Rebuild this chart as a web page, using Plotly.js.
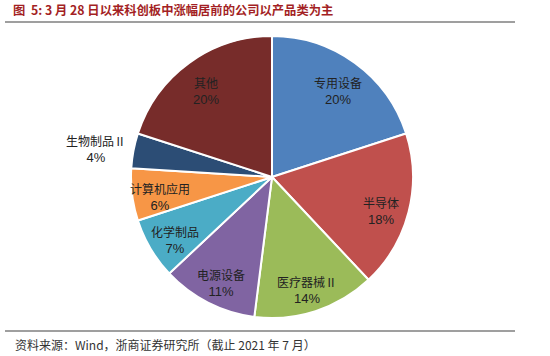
<!DOCTYPE html>
<html>
<head>
<meta charset="utf-8">
<script src="https://cdn.plot.ly/plotly-3.0.1.min.js"></script>
<style>html,body{margin:0;padding:0;background:#fff;}#chart{width:550px;height:356px;}</style>
</head>
<body>
<div id="chart"></div>
<script>
const categories = ["专用设备", "半导体", "医疗器械Ⅱ", "电源设备", "化学制品", "计算机应用", "生物制品Ⅱ", "其他"];
const shares = [20, 18, 14, 11, 7, 6, 4, 20];
const colors = ["#4F81BD", "#C0504D", "#9BBB59", "#8064A2", "#4BACC6", "#F79646", "#2C4D75", "#772C2A"];
const outsideLabel = [false, false, false, false, false, false, true, false];

const W = 550, H = 356;
const cx = 272, cy = 177, R = 141;
const INSIDE_R = 0.8, OUTSIDE_R = 1.27;

const trace = {
  type: "pie",
  labels: categories,
  values: shares,
  sort: false,
  direction: "clockwise",
  rotation: 0,
  marker: {colors: colors, line: {color: "#ffffff", width: 2}},
  textinfo: "none",
  hoverinfo: "none",
  showlegend: false,
  domain: {x: [(cx - R) / W, (cx + R) / W], y: [(H - cy - R) / H, (H - cy + R) / H]}
};

// label positions derived from the data (mid-angle of each slice)
const total = shares.reduce((a, b) => a + b, 0);
let cum = 0;
const labelAnnotations = categories.map((c, i) => {
  const mid = (cum + shares[i] / 2) / total * 2 * Math.PI;
  cum += shares[i];
  const f = outsideLabel[i] ? OUTSIDE_R : INSIDE_R;
  return {
    text: c + "<br><span style='font-family:Liberation Sans, Arial, sans-serif;font-size:13px'>" + shares[i] + "%</span>",
    xref: "paper", yref: "paper",
    x: (cx + f * R * Math.sin(mid)) / W,
    y: (H - cy + f * R * Math.cos(mid)) / H,
    yshift: -5,
    xanchor: "center", yanchor: "middle", showarrow: false,
    font: {family: "Noto Sans CJK SC, sans-serif", size: 12, color: "#222222"}
  };
});

const layout = {
  width: W, height: H,
  margin: {l: 0, r: 0, t: 0, b: 0},
  paper_bgcolor: "#ffffff",
  showlegend: false,
  title: {
    text: "<b>图  5: 3 月 28 日以来科创板中涨幅居前的公司以产品类为主</b>",
    x: 13 / W, xanchor: "left", y: 1 - 11 / H, yanchor: "middle",
    font: {family: "Noto Sans CJK SC, sans-serif", size: 12.3, color: "#A31F24"}
  },
  shapes: [
    {type: "line", xref: "paper", yref: "paper", x0: 5 / W, x1: 515 / W, y0: 1 - 22 / H, y1: 1 - 22 / H, line: {color: "#7F7F7F", width: 1.5}},
    {type: "line", xref: "paper", yref: "paper", x0: 5 / W, x1: 515 / W, y0: 1 - 331 / H, y1: 1 - 331 / H, line: {color: "#7F7F7F", width: 1.5}}
  ],
  annotations: labelAnnotations.concat([
    {text: "资料来源：Wind，浙商证券研究所（截止 2021 年 7 月）", xref: "paper", yref: "paper", x: 13 / W, y: 1 - 344 / H, xanchor: "left", yanchor: "middle", showarrow: false,
     font: {family: "Noto Sans CJK SC, sans-serif", size: 12, color: "#333333"}}
  ])
};

Plotly.newPlot("chart", [trace], layout, {displayModeBar: false, staticPlot: true});
</script>
</body>
</html>
